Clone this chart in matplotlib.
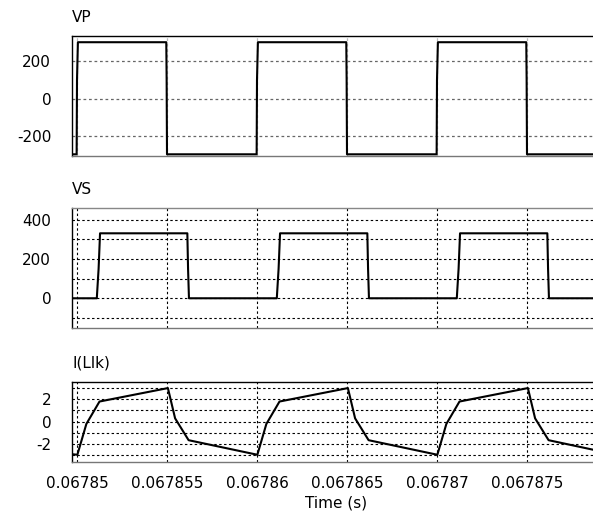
import matplotlib
matplotlib.use("Agg")
import matplotlib.pyplot as plt
import numpy as np

plt.rcParams['font.family'] = ['DejaVu Sans']

T0 = 0.06785  # reference time (s)

# ---- VP (primary voltage) : time offsets in microseconds, values in V
vp_t_us = [-0.28, -0.02, 0.00, 0.05, 4.96, 4.98, 5.00,
           9.98, 10.00, 10.05, 14.96, 14.98, 15.00,
           19.98, 20.00, 20.05, 24.96, 24.98, 25.00, 28.67]
vp_v = [-295, -295, 100, 300, 300, 100, -295,
        -295, 100, 300, 300, 100, -295,
        -295, 100, 300, 300, 100, -295, -295]

# ---- VS (secondary voltage)
vs_t_us = [-0.28, 1.10, 1.20, 1.28, 6.13, 6.17, 6.22,
           11.10, 11.20, 11.28, 16.13, 16.17, 16.22,
           21.10, 21.20, 21.28, 26.13, 26.17, 26.22, 28.67]
vs_v = [0, 0, 150, 330, 330, 150, 0,
        0, 150, 330, 330, 150, 0,
        0, 150, 330, 330, 150, 0, 0]

# ---- I(Llk) (leakage inductor current) in A
i_t_us = [-0.28, 0.02, 0.52, 1.25, 5.05, 5.45, 6.20,
          10.02, 10.52, 11.25, 15.05, 15.45, 16.20,
          20.02, 20.52, 21.25, 25.05, 25.45, 26.20, 28.67]
i_v = [-2.9, -2.95, -0.2, 1.8, 3.0, 0.3, -1.65,
       -2.95, -0.2, 1.8, 3.0, 0.3, -1.65,
       -2.95, -0.2, 1.8, 3.0, 0.3, -1.65, -2.5]

xticks = [0.06785, 0.067855, 0.06786, 0.067865, 0.06787, 0.067875]
xticklabels = ['0.06785', '0.067855', '0.06786', '0.067865', '0.06787', '0.067875']

def to_s(us):
    return T0 + np.asarray(us) * 1e-6

xlim = (to_s(-0.278), to_s(28.667))

fig = plt.figure(figsize=(5.93, 5.14), dpi=100)
W, H = 593, 514
def rect(l, t, r, b):
    return [l / W, 1 - b / H, (r - l) / W, (b - t) / H]

ax1 = fig.add_axes(rect(72, 36, 593, 156))
ax2 = fig.add_axes(rect(72, 208.3, 593, 328))
ax3 = fig.add_axes(rect(72, 381.7, 593, 461.7))

dash = (0, (2.2, 2.2))
FS = 11

def style(ax, title, top_col):
    ax.set_xlim(*xlim)
    ax.set_xticks(xticks)
    ax.tick_params(axis='both', length=0, labelsize=FS)
    ax.tick_params(axis='y', pad=15)
    ax.tick_params(axis='x', pad=10)
    ax.spines['right'].set_visible(False)
    ax.spines['left'].set_color('black')
    ax.spines['top'].set_color(top_col)
    ax.spines['bottom'].set_color('#777777')
    for s in ax.spines.values():
        s.set_linewidth(1.0)
    ax.set_title(title, loc='left', fontsize=FS, pad=10)

# VP
ax1.plot(to_s(vp_t_us), vp_v, color='black', lw=1.5, zorder=3)
ax1.set_ylim(-304, 333)
ax1.set_yticks([-200, 0, 200])
ax1.set_yticklabels(['-200', '0', '200'])
for y in [-200, 0, 200]:
    ax1.axhline(y, color='#666666', lw=0.9, ls=dash, zorder=1)
for x in xticks:
    ax1.axvline(x, color='#bbbbbb', lw=0.9, ls=dash, zorder=1)
ax1.set_xticklabels([])
style(ax1, 'VP', 'black')

# VS
ax2.plot(to_s(vs_t_us), vs_v, color='black', lw=1.5, zorder=3)
ax2.set_ylim(-151, 457)
ax2.set_yticks([0, 200, 400])
ax2.set_yticklabels(['0', '200', '400'])
for y in [-100, 0, 100, 200, 300, 400]:
    ax2.axhline(y, color='black', lw=0.8, ls=dash, zorder=1)
for x in xticks:
    ax2.axvline(x, color='black', lw=0.8, ls=dash, zorder=1)
ax2.set_xticklabels([])
style(ax2, 'VS', '#888888')

# I(Llk)
ax3.plot(to_s(i_t_us), i_v, color='black', lw=1.5, zorder=3)
ax3.set_ylim(-3.57, 3.57)
ax3.set_yticks([-2, 0, 2])
ax3.set_yticklabels(['-2', '0', '2'])
for y in [-3, -2, -1, 0, 1, 2, 3]:
    ax3.axhline(y, color='black', lw=0.8, ls=dash, zorder=1)
for x in xticks:
    ax3.axvline(x, color='black', lw=0.8, ls=dash, zorder=1)
ax3.set_xticklabels(xticklabels)
ax3.set_xlabel('Time (s)', fontsize=FS, labelpad=4)
ax3.xaxis.set_label_coords(0.5075, -0.42)
style(ax3, 'I(Llk)', 'black')

fig.savefig('out.png', dpi=100)
